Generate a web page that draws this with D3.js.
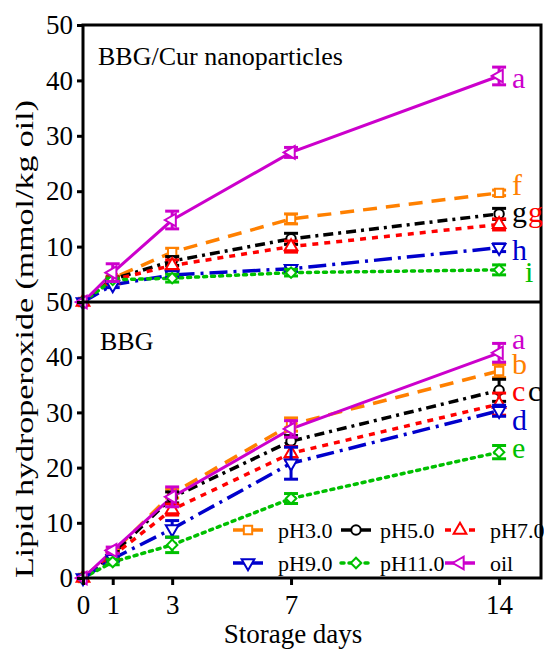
<!DOCTYPE html>
<html>
<head>
<meta charset="utf-8">
<script src="https://d3js.org/d3.v7.min.js"></script>
<style>
  html, body { margin: 0; padding: 0; background: #fff; }
  svg { display: block; }
  text { font-family: "Liberation Serif", "Times New Roman", serif; }
</style>
</head>
<body>
<div id="chart"></div>
<script>
// ---------- data ----------
const days = [0, 1, 3, 7, 14];
const seriesNames = ["pH3.0", "pH5.0", "pH7.0", "pH9.0", "pH11.0", "oil"];

// Panel 1: BBG/Cur nanoparticles
const nanoPH3 = [0, 4.3, 9.0, 15.0, 19.7];
const nanoPH3Err = [0, 0.4, 0.7, 0.9, 0.5];
const nanoPH5 = [0, 4.1, 7.4, 11.4, 15.9];
const nanoPH5Err = [0, 0.4, 0.8, 1.0, 1.0];
const nanoPH7 = [0, 4.0, 6.6, 10.0, 14.0];
const nanoPH7Err = [0, 0.4, 1.0, 1.0, 1.0];
const nanoPH9 = [0, 3.1, 4.9, 6.0, 9.8];
const nanoPH9Err = [0, 0.5, 0.4, 0.5, 0.7];
const nanoPH11 = [0, 4.0, 4.3, 5.3, 5.8];
const nanoPH11Err = [0, 0.3, 0.7, 0.6, 0.9];
const nanoOil = [0, 5.3, 14.8, 27.0, 40.8];
const nanoOilErr = [0, 1.6, 1.6, 0.9, 1.6];

// Panel 2: BBG
const bbgPH3 = [0, 4.6, 15.3, 27.8, 37.5];
const bbgPH3Err = [0, 0.5, 0.8, 1.2, 1.2];
const bbgPH5 = [0, 4.3, 14.6, 24.8, 34.0];
const bbgPH5Err = [0, 0.5, 1.0, 1.0, 2.0];
const bbgPH7 = [0, 4.0, 12.4, 22.6, 31.5];
const bbgPH7Err = [0, 0.5, 1.0, 1.2, 2.0];
const bbgPH9 = [0, 3.5, 8.9, 20.8, 30.3];
const bbgPH9Err = [0, 0.5, 1.5, 2.9, 1.0];
const bbgPH11 = [0, 2.9, 6.0, 14.4, 22.8];
const bbgPH11Err = [0, 0.5, 1.4, 0.9, 1.2];
const bbgOil = [0, 5.0, 14.7, 27.0, 40.8];
const bbgOilErr = [0, 0.6, 1.8, 1.5, 1.7];

// tick labels
const xTicks = [0, 1, 3, 7, 14];
const yTicksTop = [10, 20, 30, 40, 50];
const yTicksBottom = [0, 10, 20, 30, 40, 50];

// significance letters (text, series, anchor value in data units)
const topLetters = ["a", "f", "g", "g", "h", "i"];
const topLetterSeries = ["oil", "pH3.0", "pH5.0", "pH7.0", "pH9.0", "pH11.0"];
const topLetterValues = [38.6, 19.3, 14.4, 14.4, 7.6, 3.6];
const bottomLetters = ["a", "b", "c", "c", "d", "e"];
const bottomLetterSeries = ["oil", "pH3.0", "pH7.0", "pH5.0", "pH9.0", "pH11.0"];
const bottomLetterValues = [41.4, 36.9, 32.0, 32.0, 26.9, 21.8];

// ---------- styles ----------
const styles = {
  "pH3.0":  { color: "#FF8000", dash: "14,9",       width: 3.5, symbol: "square" },
  "pH5.0":  { color: "#000000", dash: "10,5,3,5",   width: 3.5, symbol: "circle" },
  "pH7.0":  { color: "#FF0000", dash: "6,6",        width: 3.5, symbol: "triUp" },
  "pH9.0":  { color: "#0000CC", dash: "18,6,3,6",   width: 3.5, symbol: "triDown" },
  "pH11.0": { color: "#00C000", dash: "3,5",        width: 3.5, symbol: "diamond" },
  "oil":    { color: "#CC00CC", dash: null,         width: 3,   symbol: "triLeft" }
};

const topData = {
  "pH3.0": [nanoPH3, nanoPH3Err], "pH5.0": [nanoPH5, nanoPH5Err], "pH7.0": [nanoPH7, nanoPH7Err],
  "pH9.0": [nanoPH9, nanoPH9Err], "pH11.0": [nanoPH11, nanoPH11Err], "oil": [nanoOil, nanoOilErr]
};
const bottomData = {
  "pH3.0": [bbgPH3, bbgPH3Err], "pH5.0": [bbgPH5, bbgPH5Err], "pH7.0": [bbgPH7, bbgPH7Err],
  "pH9.0": [bbgPH9, bbgPH9Err], "pH11.0": [bbgPH11, bbgPH11Err], "oil": [bbgOil, bbgOilErr]
};

// ---------- layout ----------
const W = 544, H = 650;
const svg = d3.select("#chart").append("svg").attr("width", W).attr("height", H);

const x = d3.scaleLinear().domain([0, 15.41]).range([83, 541]);
const yTop = d3.scaleLinear().domain([0, 50]).range([302, 25]);
const yBot = d3.scaleLinear().domain([0, 50]).range([578, 302]);

function symbolPath(kind) {
  const s = d3.symbol();
  switch (kind) {
    case "square": return { d: s.type(d3.symbolSquare).size(70)(), rot: 0 };
    case "circle": return { d: s.type(d3.symbolCircle).size(70)(), rot: 0 };
    case "triUp": return { d: s.type(d3.symbolTriangle).size(70)(), rot: 0 };
    case "triDown": return { d: s.type(d3.symbolTriangle).size(70)(), rot: 180 };
    case "triLeft": return { d: s.type(d3.symbolTriangle).size(70)(), rot: -90 };
    case "diamond": return { d: s.type(d3.symbolSquare).size(55)(), rot: 45 };
  }
}

function drawPanel(y, data) {
  const g = svg.append("g");
  const line = d3.line().x((d, i) => x(days[i])).y(d => y(d));
  seriesNames.forEach(name => {
    const st = styles[name];
    g.append("path")
      .attr("d", line(data[name][0]))
      .attr("fill", "none")
      .attr("stroke", st.color)
      .attr("stroke-width", st.width)
      .attr("stroke-dasharray", st.dash)
      .attr("stroke-linecap", name === "pH11.0" ? "round" : "butt");
  });
  seriesNames.forEach(name => {
    const st = styles[name];
    const [vals, errs] = data[name];
    const sym = symbolPath(st.symbol);
    vals.forEach((v, i) => {
      const cx = x(days[i]);
      const e = errs[i];
      if (e > 0) {
        g.append("line").attr("x1", cx).attr("x2", cx)
          .attr("y1", y(v - e)).attr("y2", y(v + e))
          .attr("stroke", st.color).attr("stroke-width", 3);
        [v - e, v + e].forEach(c => {
          g.append("line").attr("x1", cx - 7).attr("x2", cx + 7)
            .attr("y1", y(c)).attr("y2", y(c))
            .attr("stroke", st.color).attr("stroke-width", 3);
        });
      }
      g.append("path")
        .attr("d", sym.d)
        .attr("transform", `translate(${cx},${y(v)}) rotate(${sym.rot})`)
        .attr("fill", "#fff")
        .attr("stroke", st.color)
        .attr("stroke-width", 2);
    });
  });
}

drawPanel(yTop, topData);
drawPanel(yBot, bottomData);

// ---------- axes ----------
const axTop = svg.append("g").attr("transform", `translate(${x(0)},0)`)
  .call(d3.axisLeft(yTop).tickValues(yTicksTop).tickSize(6).tickPadding(4));
const axBot = svg.append("g").attr("transform", `translate(${x(0)},0)`)
  .call(d3.axisLeft(yBot).tickValues(yTicksBottom).tickSize(6).tickPadding(4));
const axX = svg.append("g").attr("transform", `translate(0,${yBot(0)})`)
  .call(d3.axisBottom(x).tickValues(xTicks).tickSize(7).tickPadding(10));

[axTop, axBot, axX].forEach(a => {
  a.select(".domain").remove();
  a.selectAll(".tick line").attr("stroke", "#000").attr("stroke-width", 3);
  a.selectAll(".tick text").attr("font-size", 27).attr("fill", "#000")
    .style("font-family", '"Liberation Serif", "Times New Roman", serif');
});

// frame
const frame = svg.append("g").attr("stroke", "#000").attr("stroke-width", 3).attr("fill", "none");
frame.append("rect").attr("x", x(0)).attr("y", yTop(50)).attr("width", x.range()[1] - x(0)).attr("height", yBot(0) - yTop(50));
frame.append("line").attr("x1", x(0)).attr("x2", x.range()[1]).attr("y1", yTop(0)).attr("y2", yTop(0));

// ---------- titles ----------
svg.append("text").attr("x", 98).attr("y", 65).attr("font-size", 26).text("BBG/Cur nanoparticles");
svg.append("text").attr("x", 100).attr("y", 350).attr("font-size", 26).text("BBG");

svg.append("text")
  .attr("transform", "translate(33,339) rotate(-90)")
  .attr("text-anchor", "middle")
  .attr("font-size", 26)
  .attr("textLength", 478)
  .attr("lengthAdjust", "spacingAndGlyphs")
  .text("Lipid hydroperoxide (mmol/kg oil)");

svg.append("text").attr("x", 293).attr("y", 643).attr("text-anchor", "middle")
  .attr("font-size", 27).text("Storage days");

// ---------- significance letters ----------
function drawLetters(y, letters, series, values) {
  letters.forEach((t, i) => {
    const same = i > 0 && values[i - 1] === values[i];
    const nudge = (t === "i") ? 13 : 0;
    svg.append("text")
      .attr("x", x(14) + 13 + (same ? 16 : 0) + nudge)
      .attr("y", y(values[i]))
      .attr("font-size", 30)
      .attr("fill", styles[series[i]].color)
      .text(t);
  });
}
drawLetters(yTop, topLetters, topLetterSeries, topLetterValues);
drawLetters(yBot, bottomLetters, bottomLetterSeries, bottomLetterValues);

// ---------- legend ----------
const legCols = [[248, 278], [356, 380], [460, 490]];
const legRows = [530, 563];
seriesNames.forEach((name, i) => {
  const st = styles[name];
  const col = legCols[i % 3], row = legRows[Math.floor(i / 3)];
  const g = svg.append("g");
  g.append("line").attr("x1", col[0] - 15).attr("x2", col[0] + 15)
    .attr("y1", row).attr("y2", row)
    .attr("stroke", st.color).attr("stroke-width", 3.5)
    .attr("stroke-dasharray", (name === "pH3.0" || name === "pH5.0" || name === "pH9.0") ? null : st.dash)
    .attr("stroke-linecap", name === "pH11.0" ? "round" : "butt");
  const sym = symbolPath(st.symbol);
  g.append("path").attr("d", sym.d)
    .attr("transform", `translate(${col[0]},${row}) rotate(${sym.rot})`)
    .attr("fill", "#fff").attr("stroke", st.color).attr("stroke-width", 2);
  g.append("text").attr("x", col[1]).attr("y", row + 8).attr("font-size", 22).text(name);
});
</script>
</body>
</html>
